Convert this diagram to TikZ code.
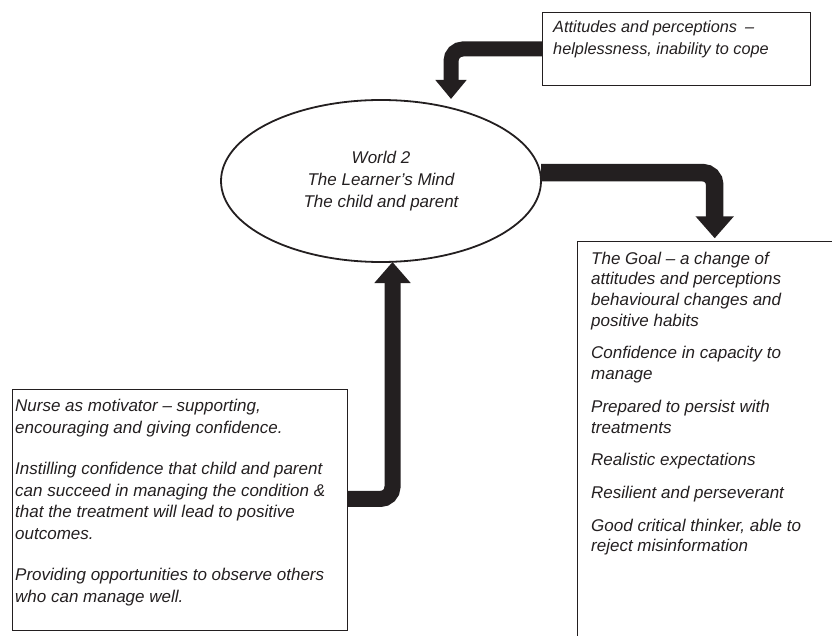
\documentclass[tikz,border=0pt]{standalone}
\usepackage{fontspec}
\setmainfont{Liberation Sans}
\usetikzlibrary{arrows.meta,shapes.geometric}
\definecolor{ink}{RGB}{35,31,32}
\tikzset{
	frame/.style={draw=ink,line width=0.9pt,inner sep=0pt,anchor=north west},
	words/.style={inner sep=0pt,anchor=north west,align=left,text=ink},
	band/.style={draw=ink,line width=16pt,rounded corners=12pt,-{Triangle[length=21pt,width=35pt]}}
}
\newcommand{\txt}[2]{\fontsize{#1}{#2}\selectfont\itshape}
\begin{document}
\begin{tikzpicture}[x=1pt,y=-1pt]
				\useasboundingbox (0,0) rectangle (832,636);
				\node[draw=ink,line width=1.8pt,ellipse,minimum width=320pt,minimum height=162pt,inner sep=0pt,align=center,text=ink,font=\txt{17pt}{22pt}] (mind) at (381,181) {World 2\\The Learner's Mind\\The child and parent};
				\node[frame,minimum width=268pt,minimum height=73pt] (attbox) at (542,12) {};
				\node[frame,minimum width=335pt,minimum height=241pt] (nursebox) at (12,389) {};
				\node[frame,minimum width=270pt,minimum height=420pt] (goalbox) at (577,241) {};
				\node[words,font=\txt{16.3pt}{22.5pt}] (atttext) at (553,20) {Attitudes and perceptions\hspace{8pt}--\\helplessness, inability to cope};
				\node[words,font=\txt{17pt}{21.7pt}] (nursetext) at (15,398.8) {Nurse as motivator -- supporting,\\encouraging and giving confidence.\\[19.7pt]Instilling confidence that child and parent\\can succeed in managing the condition \&\\that the treatment will lead to positive\\outcomes.\\[19.7pt]Providing opportunities to observe others\\who can manage well.};
				\node[words,font=\txt{17pt}{20.7pt}] (goaltext) at (591,251.6) {The Goal -- a change of\\attitudes and perceptions\\behavioural changes and\\positive habits\\[12pt]Confidence in capacity to\\manage\\[12pt]Prepared to persist with\\treatments\\[12pt]Realistic expectations\\[12pt]Resilient and perseverant\\[12pt]Good critical thinker, able to\\reject misinformation};
				\coordinate (inTip) at (451,99);
				\coordinate (goalTip) at (714.7,238.3);
				\coordinate (mindTip) at (392.5,262);
				\draw[band,line width=15pt,-{Triangle[length=19pt,width=30pt]}] (attbox.west) -| (inTip);
				\draw[band,line width=17.5pt,-{Triangle[length=22pt,width=37pt]}] (mind.3) -| (goalTip);
				\draw[band] ([yshift=11pt]nursebox.east) -| (mindTip);
			\end{tikzpicture}
\end{document}
